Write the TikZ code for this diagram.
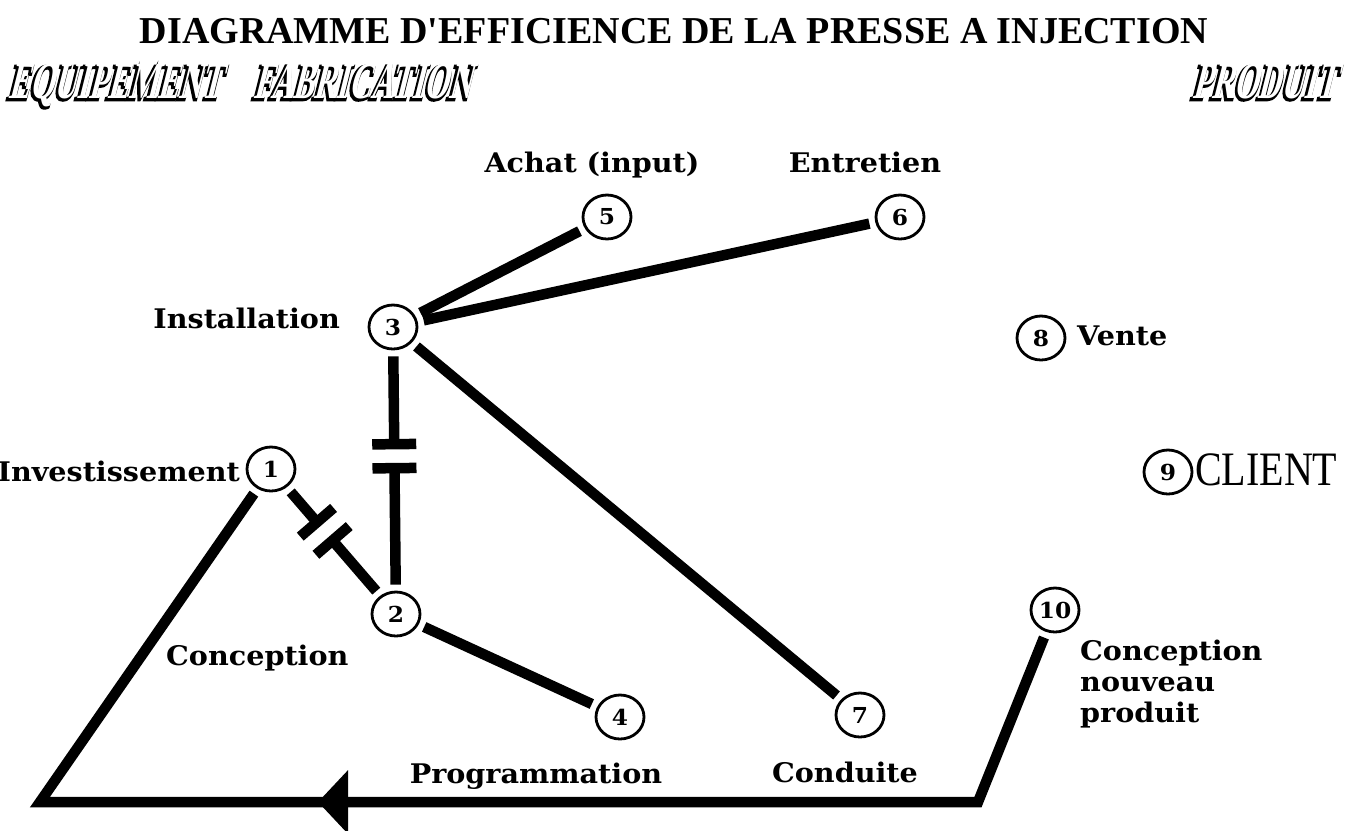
\documentclass[tikz,border=0pt]{standalone}
\usepackage{fontspec}
\usepackage{graphicx}
\usetikzlibrary{shapes.geometric,calc,arrows.meta}
\setmainfont{Liberation Serif}
\newfontfamily\titlefont{Liberation Serif}
\newfontfamily\labelfont[FakeStretch=1.06]{DejaVu Serif}
\newfontfamily\bannerfont[FakeStretch=0.6,FakeSlant=0.25]{Liberation Serif}
\newfontfamily\bannerback[FakeStretch=0.6,FakeSlant=0.25,FakeBold=5]{Liberation Serif}

\tikzset{
  num/.style={ellipse, draw, line width=2.8pt, minimum width=48pt, minimum height=44pt,
    inner sep=0pt, font=\labelfont\bfseries\fontsize{22}{22}\selectfont},
  lbl/.style={inner sep=0pt, font=\labelfont\bfseries\fontsize{27}{31}\selectfont},
  edge/.style={line width=10.5pt, shorten <=6pt, shorten >=6pt},
  plate/.style={line width=10.5pt},
  bannertxt/.style={inner sep=0pt, anchor=base, font=\bannerfont\bfseries\fontsize{52}{52}\selectfont},
  bannershadow/.style={inner sep=0pt, anchor=base, font=\bannerback\bfseries\fontsize{52}{52}\selectfont}
}

\newcommand\capedge[3]{%
  \coordinate (capm) at ($(#1)!#3!(#2)$);
  \coordinate (capa) at ($(capm)!12pt!(#1)$);
  \coordinate (capb) at ($(capm)!12pt!(#2)$);
  \draw[edge, shorten >=0pt] (#1) -- (capa);
  \draw[edge, shorten >=0pt] (#2) -- (capb);
  \draw[plate] ($(capa)!22pt!90:(capm)$) -- ($(capa)!22pt!-90:(capm)$);
  \draw[plate] ($(capb)!22pt!90:(capm)$) -- ($(capb)!22pt!-90:(capm)$);
}

\newcommand\banner[3]{%
  \node[bannershadow] (#1ombre) at (#2-2,100) {#3};
  \node[bannertxt, text=white] (#1) at (#2,98) {#3};
}

\begin{document}
\begin{tikzpicture}[x=1pt, y=-1pt]

      \useasboundingbox (0,0) rectangle (1348,830);

      \node[anchor=base, inner sep=0pt, font=\titlefont\bfseries\fontsize{38}{38}\selectfont] (titre)
        at (674,43) {DIAGRAMME D'EFFICIENCE DE LA PRESSE A INJECTION};

      \banner{equip}{115}{EQUIPEMENT}
      \banner{fabric}{362}{FABRICATION}
      \banner{produit}{1264}{PRODUIT}

      \node[num] (n1) at (271,469) {1};
      \node[num] (n2) at (396,614) {2};
      \node[num] (n3) at (393,327) {3};
      \node[num] (n4) at (620,717) {4};
      \node[num] (n5) at (607,217) {5};
      \node[num] (n6) at (900,217) {6};
      \node[num] (n7) at (860,715) {7};
      \node[num] (n8) at (1041,338) {8};
      \node[num] (n9) at (1168,472) {9};
      \node[num] (n10) at (1055,610) {10};

      \node[lbl, anchor=base east] (tinvest) at (240,481) {Investissement};
      \node[lbl, anchor=base east] (tinstal) at (340,328) {Installation};
      \node[lbl, anchor=base] (tachat) at (592,172) {Achat (input)};
      \node[lbl, anchor=base] (tentret) at (865,172) {Entretien};
      \node[lbl, anchor=base west] (tconcep) at (166,665) {Conception};
      \node[lbl, anchor=base] (tprog) at (536,783) {Programmation};
      \node[lbl, anchor=base] (tcondu) at (845,782) {Conduite};
      \node[lbl, anchor=base west] (tvente) at (1077,345) {Vente};
      \node[anchor=base west, inner sep=0pt, font=\fontsize{40}{40}\selectfont] (tclient)
        at (1195,485) {\scalebox{1}[1.2]{CLIENT}};
      \node[lbl, anchor=north west, align=left] (tnouveau)
        at (1080,640) {Conception\\nouveau\\produit};

      \draw[edge] (n3) -- (n5);
      \draw[edge] (n3) -- (n6);
      \draw[edge] (n3) -- (n7);
      \draw[edge] (n2) -- (n4);

      \capedge{n3}{n2}{0.45}
      \capedge{n1}{n2}{0.43}

      \coordinate (coinD) at (978,802);
      \coordinate (coinG) at (40,802);
      \coordinate (fleche) at (318,802);
      \draw[edge, line join=miter] (n10) -- (coinD) -- (coinG) -- (n1);
      \draw[line width=10.5pt, -{Triangle[length=30pt, width=62pt]}] (coinD) -- (fleche);

    \end{tikzpicture}
\end{document}
